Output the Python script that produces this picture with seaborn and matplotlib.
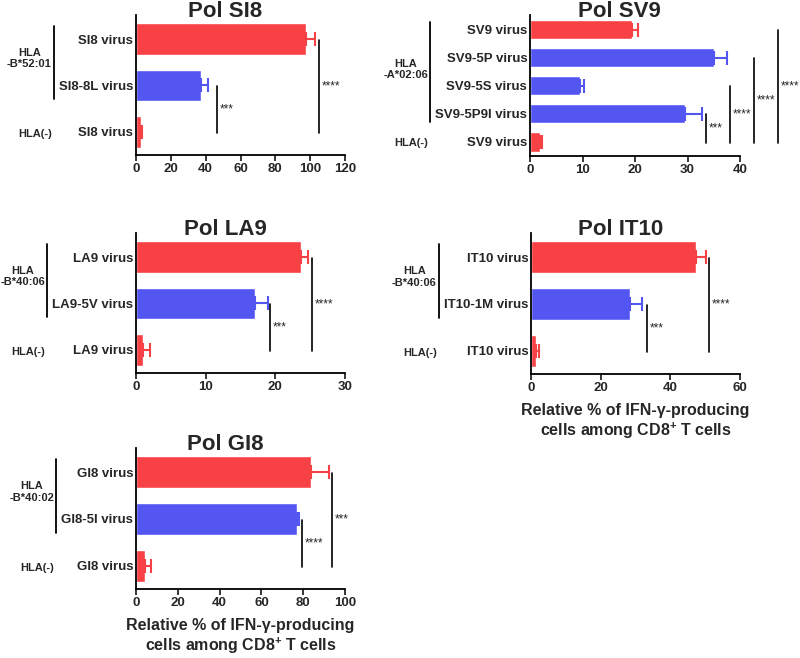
import pandas as pd
import numpy as np
import matplotlib
matplotlib.use("Agg")
import matplotlib.pyplot as plt
import seaborn as sns

# =====================================================
# DATA
# =====================================================

RED = "#F74145"
BLUE = "#5456F2"

si8_labels = ["SI8 virus", "SI8-8L virus", "SI8 virus"]
si8_means = [97.4, 37.3, 2.9]
si8_err = [5.4, 3.8, 0.6]
si8_colors = [RED, BLUE, RED]
si8_sig_x = [46.3, 105.0]
si8_sig_from = [1, 0]
si8_sig_txt = ["***", "****"]

sv9_labels = ["SV9 virus", "SV9-5P virus", "SV9-5S virus", "SV9-5P9I virus", "SV9 virus"]
sv9_means = [19.4, 35.1, 9.5, 29.5, 1.9]
sv9_err = [1.1, 2.4, 0.7, 3.2, 0.3]
sv9_colors = [RED, BLUE, BLUE, BLUE, RED]
sv9_sig_x = [33.5, 38.0, 42.7, 47.3]
sv9_sig_from = [3, 2, 1, 0]
sv9_sig_txt = ["***", "****", "****", "****"]

la9_labels = ["LA9 virus", "LA9-5V virus", "LA9 virus"]
la9_means = [23.7, 17.1, 1.0]
la9_err = [1.0, 1.9, 1.0]
la9_colors = [RED, BLUE, RED]
la9_sig_x = [19.3, 25.3]
la9_sig_from = [1, 0]
la9_sig_txt = ["***", "****"]

it10_labels = ["IT10 virus", "IT10-1M virus", "IT10 virus"]
it10_means = [47.3, 28.4, 1.3]
it10_err = [2.9, 3.4, 0.9]
it10_colors = [RED, BLUE, RED]
it10_sig_x = [33.3, 51.2]
it10_sig_from = [1, 0]
it10_sig_txt = ["***", "****"]

gi8_labels = ["GI8 virus", "GI8-5I virus", "GI8 virus"]
gi8_means = [83.5, 76.8, 4.3]
gi8_err = [8.7, 1.2, 2.7]
gi8_colors = [RED, BLUE, RED]
gi8_sig_x = [79.6, 93.8]
gi8_sig_from = [1, 0]
gi8_sig_txt = ["****", "***"]

XLABEL = "Relative % of IFN-\u03b3-producing\ncells among CD8$^{\\mathbf{+}}$ T cells"

# =====================================================
# STYLE
# =====================================================

sns.set_style("ticks")
plt.rcParams["font.family"] = ["Liberation Sans", "DejaVu Sans"]
plt.rcParams["mathtext.fontset"] = "custom"
plt.rcParams["mathtext.rm"] = "Liberation Sans"
plt.rcParams["mathtext.bf"] = "Liberation Sans:bold"

W, H = 800, 658
fig = plt.figure(figsize=(W / 100, H / 100), dpi=100)


def px_axes(l, t, r, b):
    return fig.add_axes([l / W, 1 - b / H, (r - l) / W, (b - t) / H])


def draw_panel(ax, title, labels, means, errs, colors, xmax, xstep,
               sig_x, sig_from, sig_txt, xlabel=None):
    n = len(labels)
    df = pd.DataFrame({"row": [str(i) for i in range(n)], "value": means})
    sns.barplot(data=df, x="value", y="row", hue="row",
                palette=dict(zip(df["row"], colors)), legend=False,
                orient="h", width=0.68, saturation=1, ax=ax)
    for i in range(n):
        ax.errorbar(means[i], i, xerr=[[0], [errs[i]]], fmt="none",
                    ecolor=colors[i], elinewidth=1.5, capsize=5, capthick=1.5)

    # significance lines
    for x, start, txt in zip(sig_x, sig_from, sig_txt):
        ax.plot([x, x], [start + 0.02, n - 1 + 0.02], color="black", lw=1.2,
                clip_on=False)
        ax.annotate(txt, (x, (start + n - 1) / 2 + 0.02), xytext=(2, 0),
                    textcoords="offset points", ha="left", va="center",
                    fontsize=8.5, annotation_clip=False)

    ax.set_xlim(0, xmax)
    ax.set_xticks(np.arange(0, xmax + 0.1, xstep))
    ax.set_ylim(n - 0.5, -0.52)
    ax.set_yticks(range(n))
    ax.set_yticklabels(labels)
    ax.set_ylabel("")
    ax.set_xlabel(xlabel if xlabel else "", fontsize=11.5, fontweight="bold",
                  labelpad=6)
    # title sits a little left of centre, touching the top of the axis
    ax.annotate(title, (0.5, 1), xycoords="axes fraction", xytext=(-11, -1.5),
                textcoords="offset points", ha="center", va="baseline",
                fontsize=16, fontweight="bold", annotation_clip=False)
    sns.despine(ax=ax)
    for sp in ["left", "bottom"]:
        ax.spines[sp].set_linewidth(1.3)
        ax.spines[sp].set_color("black")
    ax.tick_params(axis="y", length=0, pad=2)
    ax.tick_params(axis="x", length=4, width=1.3, pad=2)
    for lab in ax.get_xticklabels() + ax.get_yticklabels():
        lab.set_fontweight("bold")
        lab.set_fontsize(9.5)


panels = [
    ((136, 15, 345, 155), "Pol SI8", si8_labels, si8_means, si8_err, si8_colors,
     120, 20, si8_sig_x, si8_sig_from, si8_sig_txt, None, "HLA\n-B*52:01"),
    ((530, 15, 740, 156), "Pol SV9", sv9_labels, sv9_means, sv9_err, sv9_colors,
     40, 10, sv9_sig_x, sv9_sig_from, sv9_sig_txt, None, "HLA\n-A*02:06"),
    ((136, 233, 345, 373), "Pol LA9", la9_labels, la9_means, la9_err, la9_colors,
     30, 10, la9_sig_x, la9_sig_from, la9_sig_txt, None, "HLA\n-B*40:06"),
    ((531, 233, 740, 374), "Pol IT10", it10_labels, it10_means, it10_err, it10_colors,
     60, 20, it10_sig_x, it10_sig_from, it10_sig_txt, XLABEL, "HLA\n-B*40:06"),
    ((136, 448, 345, 589), "Pol GI8", gi8_labels, gi8_means, gi8_err, gi8_colors,
     100, 20, gi8_sig_x, gi8_sig_from, gi8_sig_txt, XLABEL, "HLA\n-B*40:02"),
]

axes = []
for box, title, labels, means, errs, colors, xmax, xstep, sx, sf, st, xl, hla in panels:
    ax = px_axes(*box)
    draw_panel(ax, title, labels, means, errs, colors, xmax, xstep, sx, sf, st, xl)
    axes.append((ax, len(labels), hla))

# group brackets left of the tick labels
fig.canvas.draw()
renderer = fig.canvas.get_renderer()
for ax, n, hla in axes:
    left_px = min(t.get_window_extent(renderer).x0 for t in ax.get_yticklabels())
    bx = ax.transAxes.inverted().transform((left_px - 5, 0))[0]
    tx = ax.transAxes.inverted().transform((left_px - 7, 0))[0]
    trans = ax.get_yaxis_transform()
    n_pos = n - 1
    ax.plot([bx, bx], [-0.28, n_pos - 1 + 0.3], color="black", lw=1.3,
            transform=trans, clip_on=False)
    ax.text(tx, (n_pos - 1) / 2 - 0.08, hla, transform=trans, ha="right",
            va="center", multialignment="center", fontsize=8, fontweight="bold")
    ax.text(tx, n - 1 + 0.04, "HLA(-)", transform=trans, ha="right",
            va="center", fontsize=8, fontweight="bold")

fig.savefig("out.png", dpi=100)
